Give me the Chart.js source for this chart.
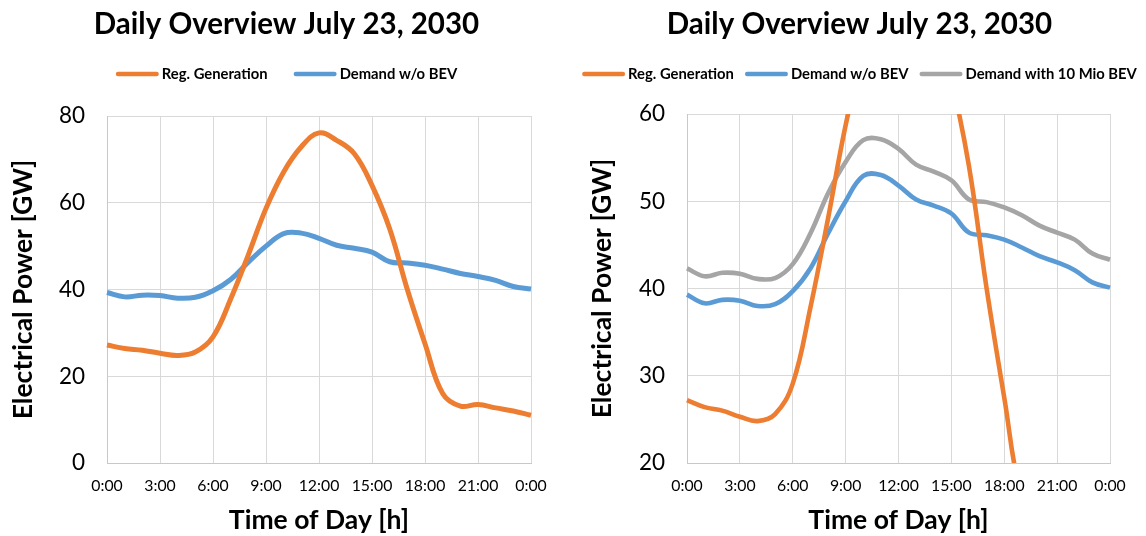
<!DOCTYPE html>
<html>
<head>
<meta charset="utf-8">
<script src="https://cdn.jsdelivr.net/npm/chart.js@4/dist/chart.umd.min.js"></script>
<style>
  html, body { margin: 0; padding: 0; background: #ffffff; }
  #wrap { position: relative; width: 1146px; height: 536px; }
  .panel { position: absolute; top: 0; width: 573px; height: 536px; }
</style>
</head>
<body>
<div id="wrap">
  <div class="panel" style="left:0"><canvas id="overview"></canvas></div>
  <div class="panel" style="left:573px"><canvas id="overviewBev"></canvas></div>
</div>
<script>
// Hourly values for July 23, 2030 (GW)
const hours = [0, 1, 2, 3, 4, 5, 6, 7, 8, 9, 10, 11, 12, 13, 14, 15, 16, 17, 18, 19, 20, 21, 22, 23, 24];
const timeTickLabels = ['0:00', '3:00', '6:00', '9:00', '12:00', '15:00', '18:00', '21:00', '0:00'];
const regGeneration = [27.2, 26.4, 26.0, 25.3, 24.8, 25.6, 29.1, 37.8, 48.0, 58.7, 67.1, 72.9, 76.1, 74.4, 71.3, 64.0, 54.0, 40.0, 27.5, 16.0, 13.1, 13.5, 12.7, 12.0, 11.0];
const demandNoBev = [39.3, 38.3, 38.7, 38.6, 38.0, 38.2, 39.7, 42.3, 46.3, 50.0, 52.9, 53.0, 51.8, 50.2, 49.5, 48.6, 46.4, 46.1, 45.6, 44.7, 43.7, 43.0, 42.1, 40.7, 40.1];
const demandWithBev = [42.3, 41.4, 41.8, 41.7, 41.1, 41.2, 42.8, 46.3, 50.9, 54.5, 57.0, 57.1, 56.0, 54.2, 53.4, 52.4, 50.2, 49.9, 49.3, 48.4, 47.2, 46.4, 45.6, 44.0, 43.3];
const seriesNames = ['Reg. Generation', 'Demand w/o BEV', 'Demand with 10 Mio BEV'];
const chartTitle = 'Daily Overview July 23, 2030';
const xAxisTitle = 'Time of Day [h]';
const yAxisTitle = 'Electrical Power [GW]';

const COLORS = { orange: '#ED7D31', blue: '#5B9BD5', gray: '#A5A5A5' };
const FONT = 'Lato';

// Horizontal legend with line markers, centred on the canvas
const lineLegend = {
  id: 'lineLegend',
  afterDraw(chart, args, opts) {
    const ctx = chart.ctx;
    const items = chart.data.datasets;
    ctx.save();
    ctx.font = opts.font;
    const widths = items.map(d => ctx.measureText(d.label).width);
    const total = widths.reduce((s, w) => s + w, 0)
      + items.length * (opts.markerLength + opts.textGap)
      + opts.itemGap * (items.length - 1);
    let x = (chart.width - total) / 2;
    items.forEach((d, i) => {
      ctx.strokeStyle = d.borderColor;
      ctx.lineWidth = opts.markerWidth;
      ctx.lineCap = 'round';
      ctx.beginPath();
      ctx.moveTo(x + opts.markerWidth / 2, opts.y);
      ctx.lineTo(x + opts.markerLength - opts.markerWidth / 2, opts.y);
      ctx.stroke();
      x += opts.markerLength + opts.textGap;
      ctx.fillStyle = opts.color;
      ctx.textAlign = 'left';
      ctx.textBaseline = 'middle';
      ctx.fillText(d.label, x, opts.y + 0.5);
      x += widths[i] + opts.itemGap;
    });
    ctx.restore();
  }
};

function series(values) {
  return hours.map((h, i) => ({ x: h, y: values[i] }));
}

function lineDataset(label, values, color, width) {
  return {
    label: label,
    data: series(values),
    borderColor: color,
    backgroundColor: color,
    borderWidth: width,
    pointRadius: 0,
    pointHoverRadius: 0,
    tension: 0.4,
    borderJoinStyle: 'round',
    clip: { left: 4, right: 4, top: 0, bottom: 0 }
  };
}

function buildChart(canvasId, datasets, yRange, frame) {
  const titleFont = 29.5;
  const titleLine = titleFont * 1.2;
  return new Chart(document.getElementById(canvasId), {
    type: 'line',
    data: { datasets: datasets },
    options: {
      responsive: true,
      maintainAspectRatio: false,
      animation: false,
      events: [],
      layout: { padding: 0 },
      plugins: {
        legend: { display: false },
        tooltip: { enabled: false },
        title: {
          display: true,
          text: chartTitle,
          color: '#000000',
          font: { family: FONT, size: titleFont, weight: 'bold' },
          padding: { top: 6.5, bottom: frame.top - 6.5 - titleLine }
        },
        lineLegend: {
          font: 'bold 14.8px ' + FONT,
          color: '#000000',
          y: 74,
          markerLength: 43,
          markerWidth: 4.5,
          textGap: 3,
          itemGap: frame.legendGap
        }
      },
      scales: {
        x: {
          type: 'linear',
          min: 0,
          max: 24,
          ticks: {
            stepSize: 3,
            autoSkip: false,
            maxRotation: 0,
            color: '#000000',
            padding: 13,
            font: { family: FONT, size: 15.8 },
            callback: (v) => timeTickLabels[Math.round(v / 3)]
          },
          grid: { color: '#d9d9d9', lineWidth: 1, drawTicks: false },
          border: { color: '#c8c8c8', width: 1 },
          title: {
            display: true,
            text: xAxisTitle,
            color: '#000000',
            font: { family: FONT, size: 26.5, weight: 'bold' },
            padding: { top: 0, bottom: 0 }
          },
          afterFit: (s) => { s.height = 536 - frame.bottom; }
        },
        y: {
          type: 'linear',
          position: 'left',
          min: yRange.min,
          max: yRange.max,
          ticks: {
            stepSize: yRange.step,
            color: '#000000',
            padding: 22,
            font: { family: FONT, size: 22.5 }
          },
          grid: { color: '#d9d9d9', lineWidth: 1, drawTicks: false },
          border: { color: '#c8c8c8', width: 1 },
          title: {
            display: true,
            text: yAxisTitle,
            color: '#000000',
            font: { family: FONT, size: 26.5, weight: 'bold' },
            padding: { top: frame.yTitlePad, bottom: 0 }
          },
          afterFit: (s) => { s.width = frame.left; }
        },
        margin: {
          type: 'linear',
          position: 'right',
          min: 0,
          max: 1,
          ticks: { display: false },
          grid: { display: false, drawTicks: false },
          border: { display: false },
          afterFit: (s) => { s.width = frame.right; }
        }
      }
    },
    plugins: [lineLegend]
  });
}

buildChart('overview', [
  lineDataset(seriesNames[0], regGeneration, COLORS.orange, 5),
  lineDataset(seriesNames[1], demandNoBev, COLORS.blue, 5)
], { min: 0, max: 80, step: 20 }, { left: 107, right: 42, top: 116, bottom: 463, yTitlePad: 8, legendGap: 26 });

buildChart('overviewBev', [
  lineDataset(seriesNames[0], regGeneration, COLORS.orange, 4.6),
  lineDataset(seriesNames[1], demandNoBev, COLORS.blue, 4.6),
  lineDataset(seriesNames[2], demandWithBev, COLORS.gray, 4.6)
], { min: 20, max: 60, step: 10 }, { left: 114, right: 36, top: 114, bottom: 463, yTitlePad: 14, legendGap: 11 });
</script>
</body>
</html>
